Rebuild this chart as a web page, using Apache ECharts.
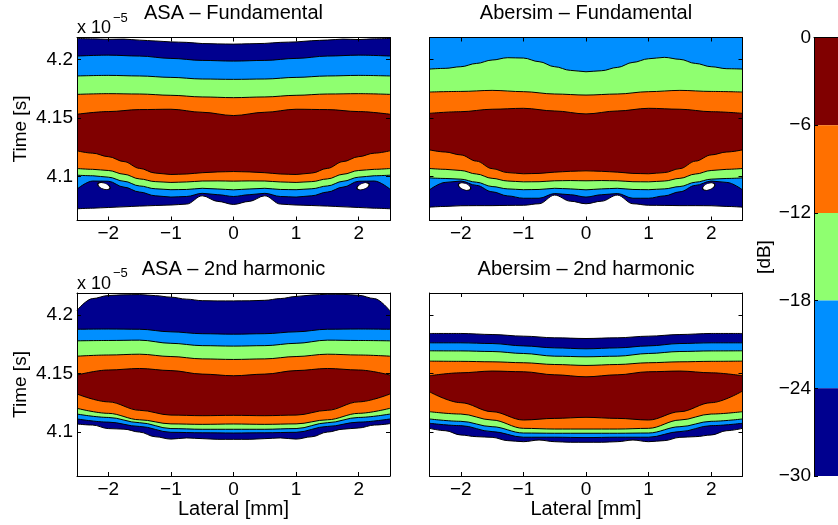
<!DOCTYPE html>
<html><head><meta charset="utf-8">
<script src="https://cdn.jsdelivr.net/npm/echarts@6/dist/echarts.min.js"></script>
<style>html,body{margin:0;padding:0;background:#fff}#c{width:838px;height:525px}</style>
</head><body><div id="c"></div>
<script>
// ---------- data ----------
const latCoarse = [-2.5,-2,-1.5,-1,-0.5,0,0.5,1,1.5,2,2.5];
const latFine = [-2.5,-2.25,-2,-1.75,-1.5,-1.25,-1,-0.75,-0.5,-0.25,0,0.25,0.5,0.75,1,1.25,1.5,1.75,2,2.25,2.5];
const timeTicks = [4.1, 4.15, 4.2];
const latTicks = [-2, -1, 0, 1, 2];
const dbLevels = [0, -6, -12, -18, -24, -30];

// ASA - Fundamental: contour boundaries (time, x1e-5 s)
const tlTop = [4.2180,4.2176,4.2172,4.2174,4.2165,4.2158,4.2150,4.2146,4.2136,4.2133,4.2131,4.2134,4.2137,4.2146,4.2150,4.2160,4.2166,4.2174,4.2170,4.2176,4.2180];
const tlU1 = [4.2029,4.2037,4.2029,4.2009,4.1992,4.1986,4.1992,4.2009,4.2029,4.2037,4.2029];
const tlU2 = [4.1859,4.1864,4.1859,4.1847,4.1833,4.1830,4.1833,4.1847,4.1859,4.1864,4.1859];
const tlU3 = [4.1702,4.1708,4.1705,4.1694,4.1680,4.1674,4.1680,4.1694,4.1705,4.1708,4.1702];
const tlU4 = [4.1532,4.1555,4.1572,4.1575,4.1549,4.1521,4.1549,4.1575,4.1572,4.1555,4.1532];
const tlL1 = [4.1220,4.1200,4.1170,4.1128,4.1070,4.1030,4.1018,4.1022,4.1033,4.1040,4.1043,4.1040,4.1033,4.1022,4.1018,4.1030,4.1070,4.1128,4.1170,4.1200,4.1220];
const tlL2 = [4.1069,4.1062,4.1052,4.1020,4.0980,4.0957,4.0950,4.0954,4.0962,4.0963,4.0961,4.0963,4.0962,4.0954,4.0950,4.0957,4.0980,4.1020,4.1052,4.1062,4.1069];
const tlL3 = [4.1012,4.1007,4.0995,4.0960,4.0920,4.0896,4.0888,4.0890,4.0900,4.0894,4.0887,4.0894,4.0900,4.0890,4.0888,4.0896,4.0920,4.0960,4.0995,4.1007,4.1012];
const tlL4 = [4.0893,4.0962,4.0960,4.0910,4.0868,4.0836,4.0825,4.0830,4.0857,4.0845,4.0830,4.0845,4.0857,4.0830,4.0825,4.0836,4.0868,4.0910,4.0960,4.0962,4.0893];
const tlL5 = [4.0725,4.0730,4.0736,4.0742,4.0748,4.0753,4.0757,4.0765,4.0836,4.0788,4.0762,4.0788,4.0836,4.0765,4.0757,4.0753,4.0748,4.0742,4.0736,4.0730,4.0725];
const tlHoles = [[-2.07, 4.0919], [2.07, 4.0917]];

// Abersim - Fundamental
const trU1 = [4.1918,4.1924,4.1938,4.1966,4.1995,4.2015,4.2012,4.1981,4.1938,4.1907,4.1895,4.1904,4.1932,4.1975,4.2006,4.2018,4.2001,4.1966,4.1938,4.1921,4.1918];
const trU2 = [4.1722,4.1727,4.1736,4.1725,4.1705,4.1696,4.1705,4.1725,4.1736,4.1727,4.1722];
const trU3 = [4.1540,4.1554,4.1575,4.1583,4.1560,4.1535,4.1560,4.1583,4.1575,4.1554,4.1540];
const trL1 = [4.1228,4.1210,4.1185,4.1132,4.1068,4.1034,4.1024,4.1027,4.1038,4.1045,4.1049,4.1045,4.1038,4.1027,4.1024,4.1034,4.1068,4.1132,4.1185,4.1210,4.1228];
const trL2 = [4.1069,4.1062,4.1052,4.1022,4.0985,4.0962,4.0955,4.0956,4.0964,4.0966,4.0964,4.0966,4.0964,4.0956,4.0955,4.0962,4.0985,4.1022,4.1052,4.1062,4.1069];
const trL3 = [4.0989,4.0984,4.0978,4.0952,4.0915,4.0895,4.0888,4.0890,4.0900,4.0895,4.0887,4.0895,4.0900,4.0890,4.0888,4.0895,4.0915,4.0952,4.0978,4.0984,4.0989];
const trL4 = [4.0887,4.0950,4.0962,4.0925,4.0870,4.0835,4.0815,4.0815,4.0855,4.0845,4.0825,4.0845,4.0855,4.0815,4.0815,4.0835,4.0870,4.0925,4.0962,4.0950,4.0887];
const trL5 = [4.0739,4.0745,4.0751,4.0752,4.0752,4.0754,4.0755,4.0768,4.0842,4.0790,4.0768,4.0790,4.0842,4.0768,4.0755,4.0754,4.0752,4.0752,4.0751,4.0745,4.0739];
const trHoles = [[-1.94, 4.0915], [1.96, 4.0915]];

// ASA - 2nd harmonic
const blTop = [4.2040,4.2140,4.2166,4.2172,4.2174,4.2165,4.2152,4.2135,4.2122,4.2120,4.2120,4.2121,4.2125,4.2140,4.2158,4.2170,4.2177,4.2176,4.2168,4.2140,4.2035];
const blU1 = [4.1878,4.1880,4.1878,4.1856,4.1840,4.1836,4.1840,4.1856,4.1878,4.1880,4.1878];
const blU2 = [4.1779,4.1782,4.1785,4.1758,4.1738,4.1734,4.1738,4.1758,4.1785,4.1782,4.1779];
const blU3 = [4.1648,4.1658,4.1665,4.1645,4.1625,4.1620,4.1625,4.1645,4.1665,4.1658,4.1648];
const blU4 = [4.1487,4.1530,4.1543,4.1525,4.1495,4.1481,4.1495,4.1525,4.1543,4.1530,4.1487];
const blL1 = [4.1325,4.1258,4.1186,4.1145,4.1140,4.1143,4.1140,4.1145,4.1186,4.1258,4.1325];
const blL2 = [4.1203,4.1160,4.1105,4.1070,4.1066,4.1069,4.1066,4.1070,4.1105,4.1160,4.1203];
const blL3 = [4.1154,4.1125,4.1080,4.1030,4.1024,4.1024,4.1024,4.1030,4.1080,4.1125,4.1154];
const blL4 = [4.1112,4.1085,4.1048,4.0998,4.0994,4.0992,4.0994,4.0998,4.1048,4.1085,4.1112];
const blL5 = [4.1069,4.1060,4.1030,4.1025,4.1000,4.0960,4.0940,4.0950,4.0944,4.0938,4.0938,4.0938,4.0944,4.0950,4.0940,4.0960,4.1000,4.1025,4.1035,4.1060,4.1072];

// Abersim - 2nd harmonic
const brTop = [4.1842,4.1842,4.1833,4.1819,4.1805,4.1799,4.1805,4.1819,4.1833,4.1842,4.1842];
const brU1 = [4.1762,4.1762,4.1756,4.1736,4.1719,4.1711,4.1719,4.1736,4.1756,4.1762,4.1762];
const brU2 = [4.1694,4.1693,4.1688,4.1671,4.1648,4.1643,4.1648,4.1671,4.1688,4.1693,4.1694];
const brU3 = [4.1606,4.1604,4.1600,4.1592,4.1577,4.1569,4.1577,4.1592,4.1600,4.1604,4.1606];
const brU4 = [4.1481,4.1506,4.1521,4.1515,4.1489,4.1472,4.1489,4.1515,4.1521,4.1506,4.1481];
const brL1 = [4.1344,4.1251,4.1174,4.1103,4.1117,4.1126,4.1117,4.1103,4.1174,4.1251,4.1350];
const brL2 = [4.1174,4.1154,4.1103,4.1032,4.1026,4.1026,4.1026,4.1032,4.1103,4.1154,4.1174];
const brL3 = [4.1112,4.1092,4.1046,4.0992,4.0990,4.0990,4.0990,4.0992,4.1046,4.1092,4.1112];
const brL4 = [4.1075,4.1055,4.1004,4.0956,4.0956,4.0953,4.0956,4.0956,4.1004,4.1055,4.1075];
const brL5 = [4.1032,4.1012,4.0975,4.0961,4.0955,4.0927,4.0918,4.0932,4.0918,4.0913,4.0913,4.0913,4.0918,4.0932,4.0918,4.0927,4.0955,4.0961,4.0975,4.1012,4.1032];

// ---------- styles ----------
const COL = {dkblue:'#00008F', ltblue:'#008FFF', green:'#8FFF70', orange:'#FF7000', dkred:'#800000', white:'#FFFFFF'};
const FONT = '"Liberation Sans", Arial, Helvetica, sans-serif';
const TMIN = 4.0625, TMAX = 4.21875;

const panels = [
  {title:'ASA \u2013 Fundamental', left:77, top:37.5, expo:true, xname:false,
   upper:[[latCoarse,tlU4,'orange'],[latCoarse,tlU3,'green'],[latCoarse,tlU2,'ltblue'],[latCoarse,tlU1,'dkblue'],[latFine,tlTop,'white']],
   lower:[[latFine,tlL1,'orange'],[latFine,tlL2,'green'],[latFine,tlL3,'ltblue'],[latFine,tlL4,'dkblue'],[latFine,tlL5,'white']],
   holes:tlHoles, holeSize:[13,6]},
  {title:'Abersim \u2013 Fundamental', left:429.5, top:37.5, expo:false, xname:false,
   upper:[[latCoarse,trU3,'orange'],[latCoarse,trU2,'green'],[latFine,trU1,'ltblue']],
   lower:[[latFine,trL1,'orange'],[latFine,trL2,'green'],[latFine,trL3,'ltblue'],[latFine,trL4,'dkblue'],[latFine,trL5,'white']],
   holes:trHoles, holeSize:[13,6.5]},
  {title:'ASA \u2013 2nd harmonic', left:77, top:293, expo:true, xname:true,
   upper:[[latCoarse,blU4,'orange'],[latCoarse,blU3,'green'],[latCoarse,blU2,'ltblue'],[latCoarse,blU1,'dkblue'],[latFine,blTop,'white']],
   lower:[[latCoarse,blL1,'orange'],[latCoarse,blL2,'green'],[latCoarse,blL3,'ltblue'],[latCoarse,blL4,'dkblue'],[latFine,blL5,'white']],
   holes:[], holeSize:[1,1]},
  {title:'Abersim \u2013 2nd harmonic', left:429.5, top:293, expo:false, xname:true,
   upper:[[latCoarse,brU4,'orange'],[latCoarse,brU3,'green'],[latCoarse,brU2,'ltblue'],[latCoarse,brU1,'dkblue'],[latCoarse,brTop,'white']],
   lower:[[latCoarse,brL1,'orange'],[latCoarse,brL2,'green'],[latCoarse,brL3,'ltblue'],[latCoarse,brL4,'dkblue'],[latFine,brL5,'white']],
   holes:[], holeSize:[1,1]}
];
const PW = 313, PH = 183;
const minus = v => String(v).replace('-', '\u2212');

const grids = [], xAxes = [], yAxes = [], series = [], graphics = [];
const tickStyle = {show:true, inside:true, length:4, lineStyle:{color:'#000', width:1}};
const lineStyle = {show:true, onZero:false, lineStyle:{color:'#000', width:1}};

panels.forEach((p, g) => {
  grids.push({left:p.left, top:p.top, width:PW, height:PH, show:true, backgroundColor:COL.dkred, borderWidth:0});
  xAxes.push({gridIndex:g, type:'value', min:-2.5, max:2.5, position:'bottom', z:10,
    axisLine:lineStyle, axisTick:Object.assign({customValues:latTicks}, tickStyle),
    axisLabel:{customValues:latTicks, formatter:minus, color:'#000', fontSize:19, fontFamily:FONT, margin:4},
    splitLine:{show:false}});
  xAxes.push({gridIndex:g, type:'value', min:-2.5, max:2.5, position:'top', z:10,
    axisLine:lineStyle, axisTick:Object.assign({customValues:latTicks}, tickStyle),
    axisLabel:{show:false}, splitLine:{show:false}});
  yAxes.push({gridIndex:g, type:'value', min:TMIN, max:TMAX, position:'left', z:10,
    axisLine:lineStyle, axisTick:Object.assign({customValues:timeTicks}, tickStyle),
    axisLabel:{show:(g % 2 === 0), customValues:timeTicks, formatter:v => String(+(+v).toFixed(2)), color:'#000', fontSize:19, fontFamily:FONT, margin:4},
    splitLine:{show:false}});
  yAxes.push({gridIndex:g, type:'value', min:TMIN, max:TMAX, position:'right', z:10,
    axisLine:lineStyle, axisTick:Object.assign({customValues:timeTicks}, tickStyle),
    axisLabel:{show:false}, splitLine:{show:false}});

  const mk = (xs, ys, col, origin) => ({
    type:'line', xAxisIndex:2*g, yAxisIndex:2*g, data:xs.map((x, i) => [x, ys[i]]),
    smooth:0.35, smoothMonotone:'x', symbol:'none', showSymbol:false, silent:true, animation:false,
    lineStyle:{color:'#000', width:1}, areaStyle:{color:COL[col], opacity:1, origin:origin}, z:2
  });
  p.upper.forEach(c => series.push(mk(c[0], c[1], c[2], 'end')));
  p.lower.forEach(c => series.push(mk(c[0], c[1], c[2], 'start')));
  if (p.holes.length) {
    series.push({type:'scatter', xAxisIndex:2*g, yAxisIndex:2*g, silent:true, animation:false, z:3,
      symbol:'circle', symbolSize:p.holeSize,
      data:p.holes.map(h => ({value:h, symbolRotate: h[0] < 0 ? -20 : 20})),
      itemStyle:{color:'#fff', opacity:1, borderColor:'#000', borderWidth:1}});
  }
  const cx = p.left + PW / 2;
  graphics.push({type:'text', x:cx, y:p.top - 24, silent:true,
    style:{text:p.title, font:'20px ' + FONT, fill:'#000', textAlign:'center', textVerticalAlign:'middle', align:'center', verticalAlign:'middle'}});
  if (p.expo) {
    graphics.push({type:'text', x:p.left, y:p.top - 9, silent:true,
      style:{text:'x 10', font:'18px ' + FONT, fill:'#000', textAlign:'left', textVerticalAlign:'middle', align:'left', verticalAlign:'middle'}});
    graphics.push({type:'text', x:p.left + 36, y:p.top - 19.5, silent:true,
      style:{text:'\u22125', font:'13px ' + FONT, fill:'#000', textAlign:'left', textVerticalAlign:'middle', align:'left', verticalAlign:'middle'}});
    graphics.push({type:'text', x:20.5, y:p.top + PH / 2, rotation:Math.PI / 2, silent:true,
      style:{text:'Time [s]', font:'19px ' + FONT, fill:'#000', textAlign:'center', textVerticalAlign:'middle', align:'center', verticalAlign:'middle'}});
  }
  if (p.xname) {
    graphics.push({type:'text', x:cx, y:p.top + PH + 33, silent:true,
      style:{text:'Lateral [mm]', font:'20px ' + FONT, fill:'#000', textAlign:'center', textVerticalAlign:'middle', align:'center', verticalAlign:'middle'}});
  }
});

// colorbar
grids.push({left:814, top:37.5, width:60, height:438.5, show:false});
xAxes.push({gridIndex:panels.length, type:'category', data:['dB'], position:'top', z:10,
  axisLine:lineStyle, axisTick:{show:false}, axisLabel:{show:false}, splitLine:{show:false}});
yAxes.push({gridIndex:panels.length, type:'value', min:-30, max:0, interval:6, position:'left', z:10,
  axisLine:lineStyle, axisTick:tickStyle,
  axisLabel:{formatter:minus, color:'#000', fontSize:19, fontFamily:FONT, margin:3},
  splitLine:{show:false}});
const cbColors = ['dkred', 'orange', 'green', 'ltblue', 'dkblue'];
for (let i = 0; i < dbLevels.length - 1; i++) {
  series.push({type:'bar', xAxisIndex:xAxes.length - 1, yAxisIndex:yAxes.length - 1, stack:'cb', barWidth:'100%', silent:true, animation:false,
    data:[dbLevels[i + 1] - dbLevels[i]], itemStyle:{color:COL[cbColors[i]]}});
}
graphics.push({type:'text', x:765, y:257, rotation:Math.PI / 2, silent:true,
  style:{text:'[dB]', font:'19px ' + FONT, fill:'#000', textAlign:'center', textVerticalAlign:'middle', align:'center', verticalAlign:'middle'}});

const chart = echarts.init(document.getElementById('c'), null, {renderer:'canvas'});
chart.setOption({
  animation:false,
  backgroundColor:'#fff',
  grid:grids, xAxis:xAxes, yAxis:yAxes, series:series, graphic:graphics
});
</script>
</body></html>
